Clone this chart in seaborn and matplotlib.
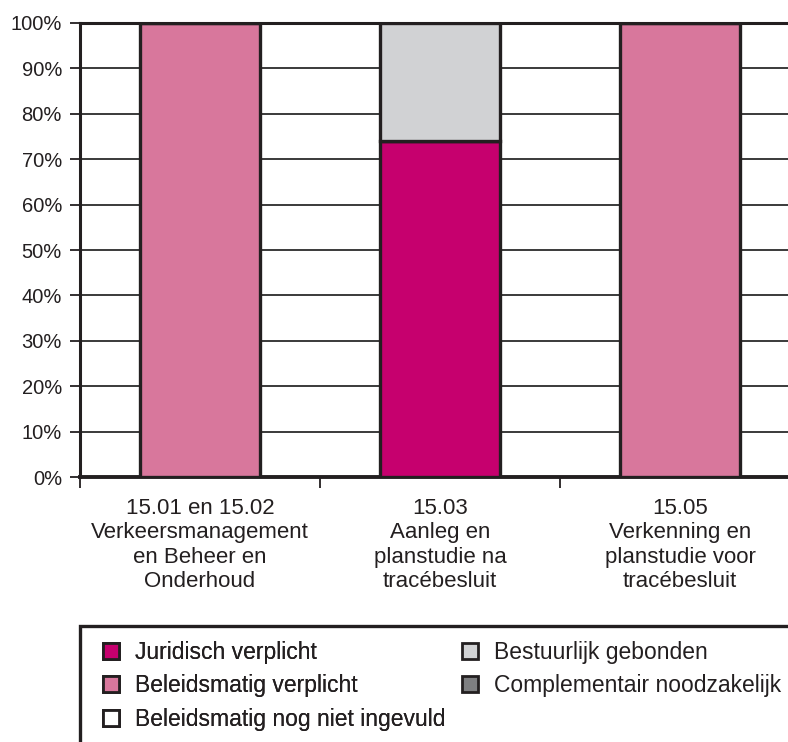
import numpy as np
import pandas as pd
import matplotlib
matplotlib.use("Agg")
import matplotlib.pyplot as plt
from matplotlib.patches import Patch, Rectangle
import seaborn as sns

# Data (percentages)
categories = [
    "15.01 en 15.02\nVerkeersmanagement\nen Beheer en\nOnderhoud",
    "15.03\nAanleg en\nplanstudie na\ntracébesluit",
    "15.05\nVerkenning en\nplanstudie voor\ntracébesluit",
]
juridisch_verplicht = [0, 74, 0]
beleidsmatig_verplicht = [100, 0, 100]
bestuurlijk_gebonden = [0, 26, 0]
complementair_noodzakelijk = [0, 0, 0]
beleidsmatig_nog_niet_ingevuld = [0, 0, 0]

legend_col1 = ["Juridisch verplicht", "Beleidsmatig verplicht", "Beleidsmatig nog niet ingevuld"]
legend_col2 = ["Bestuurlijk gebonden", "Complementair noodzakelijk"]
colors = {
    "Juridisch verplicht": "#C6006E",
    "Beleidsmatig verplicht": "#D8779C",
    "Bestuurlijk gebonden": "#D1D2D4",
    "Complementair noodzakelijk": "#7E7F81",
    "Beleidsmatig nog niet ingevuld": "#FFFFFF",
}

df = pd.DataFrame({
    "category": categories,
    "Juridisch verplicht": juridisch_verplicht,
    "Beleidsmatig verplicht": beleidsmatig_verplicht,
    "Bestuurlijk gebonden": bestuurlijk_gebonden,
    "Complementair noodzakelijk": complementair_noodzakelijk,
    "Beleidsmatig nog niet ingevuld": beleidsmatig_nog_niet_ingevuld,
})
stack_order = ["Juridisch verplicht", "Beleidsmatig verplicht", "Bestuurlijk gebonden",
               "Complementair noodzakelijk", "Beleidsmatig nog niet ingevuld"]

sns.set_style("white")
plt.rcParams['font.family'] = ['Liberation Sans', 'DejaVu Sans']

fig = plt.figure(figsize=(7.88, 7.42), dpi=100)
ax = fig.add_axes([80 / 788, 1 - 477 / 742, 720 / 788, 454 / 742])

dark = "#231F20"
bottom = np.zeros(len(df))
for name in stack_order:
    vals = df[name].to_numpy(dtype=float)
    if vals.sum() > 0:
        sns.barplot(data=df, x="category", y=name, ax=ax, bottom=bottom,
                    color=colors[name], width=0.5, edgecolor=dark, linewidth=2.4,
                    saturation=1, zorder=3)
    bottom += vals

ax.set_xlim(-0.5, 2.5)
ax.set_ylim(0, 100)
ax.set_yticks(np.arange(0, 101, 10))
ax.set_yticklabels([f"{v}%" for v in range(0, 101, 10)])
ax.yaxis.grid(True, color="#3a3a3a", linewidth=1.4, zorder=0)
ax.set_axisbelow(True)
ax.set_xlabel("")
ax.set_ylabel("")

# category labels at bar centres, tick marks at category boundaries
ax.set_xticks(range(len(categories)))
ax.set_xticklabels(categories, fontsize=16, color=dark, linespacing=1.22)
ax.set_xticks([-0.5, 0.5, 1.5, 2.5], minor=True)
ax.tick_params(axis="x", which="major", length=0, pad=15)
ax.tick_params(axis="x", which="minor", length=8, width=1.3, color=dark, direction="out")
ax.tick_params(axis="y", length=7, width=1.3, color=dark, labelsize=14.5, labelcolor=dark, pad=6)
ax.tick_params(left=True, bottom=True, which="both")

for side in ["left", "bottom", "top"]:
    ax.spines[side].set_visible(True)
    ax.spines[side].set_color(dark)
ax.spines["left"].set_linewidth(2.2)
ax.spines["bottom"].set_linewidth(2.8)
ax.spines["top"].set_linewidth(2.2)
ax.spines["right"].set_visible(False)

# legend box (runs off the right and bottom edges)
fig.patches.append(Rectangle((80 / 788, -0.05), 1.0, 1 - 626 / 742 + 0.05,
                             transform=fig.transFigure, fill=False,
                             edgecolor=dark, linewidth=2.4))

leg_kw = dict(frameon=False, loc="upper left", fontsize=16.5,
              handlelength=0.7, handleheight=0.7, handletextpad=0.7,
              labelspacing=0.45, borderpad=0, borderaxespad=0, labelcolor=dark)
h1 = [Patch(facecolor=colors[n], edgecolor=dark, linewidth=2.0) for n in legend_col1]
h2 = [Patch(facecolor=colors[n], edgecolor=dark, linewidth=2.0) for n in legend_col2]
leg1 = fig.legend(h1, legend_col1, bbox_to_anchor=(103 / 788, 1 - 641 / 742), **leg_kw)
fig.add_artist(leg1)
fig.legend(h2, legend_col2, bbox_to_anchor=(462 / 788, 1 - 641 / 742), **leg_kw)

fig.savefig("out.png", dpi=100)
